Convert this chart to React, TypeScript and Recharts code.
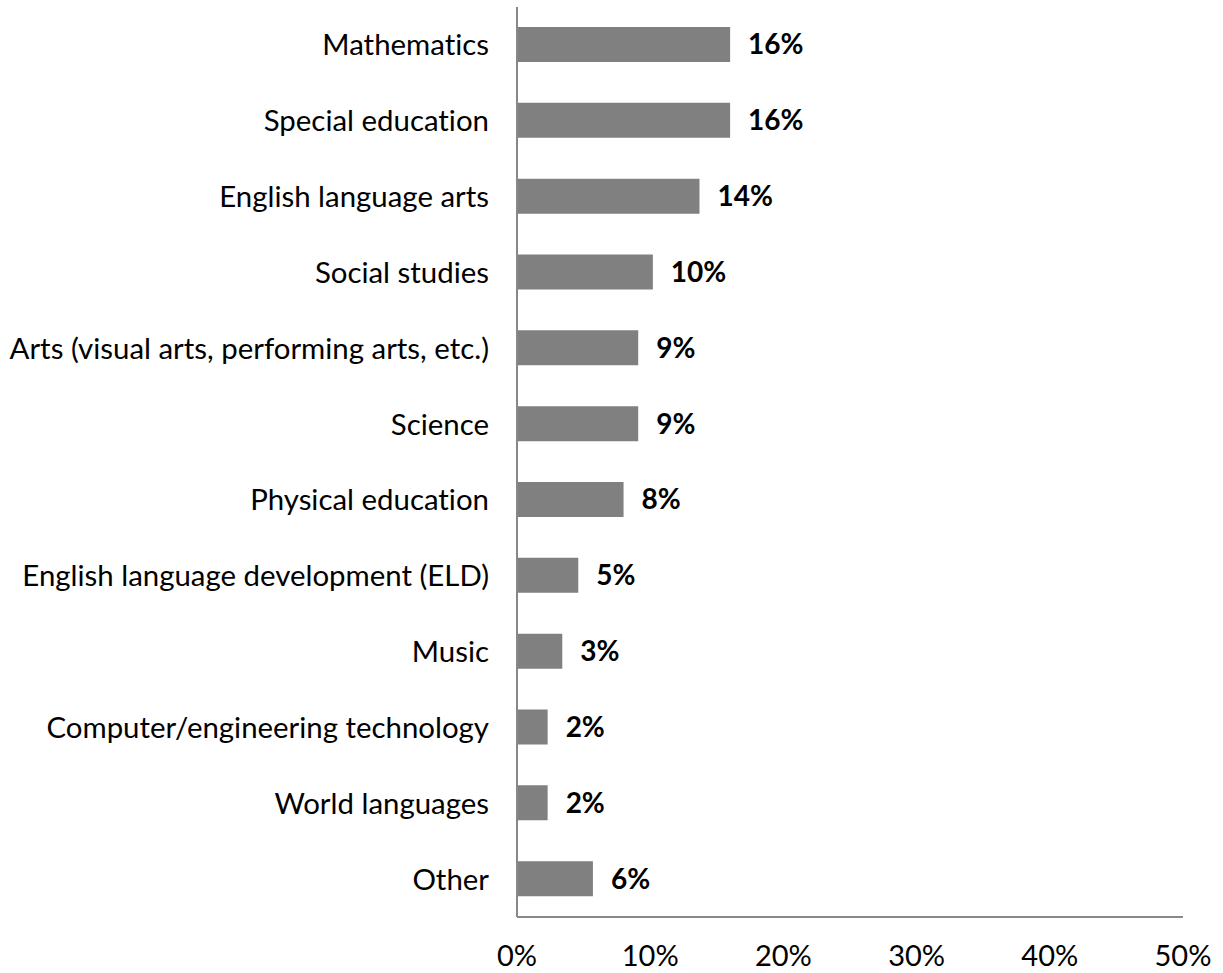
import { BarChart, Bar, XAxis, YAxis, LabelList } from 'recharts'

const subjects = [
  'Mathematics',
  'Special education',
  'English language arts',
  'Social studies',
  'Arts (visual arts, performing arts, etc.)',
  'Science',
  'Physical education',
  'English language development (ELD)',
  'Music',
  'Computer/engineering technology',
  'World languages',
  'Other',
]
const shares = [16.0, 16.0, 13.7, 10.2, 9.1, 9.1, 8.0, 4.6, 3.4, 2.3, 2.3, 5.7]
const shareLabels = ['16%', '16%', '14%', '10%', '9%', '9%', '8%', '5%', '3%', '2%', '2%', '6%']
const xTicks = [0, 10, 20, 30, 40, 50]

const data = subjects.map((s, i) => ({ subject: s, share: shares[i], label: shareLabels[i] }))

const font = 'Lato, "Open Sans", sans-serif'

export default function App() {
  return (
    <div style={{ position: 'absolute', left: 0, top: 0, background: '#fff', fontVariantLigatures: 'none' }}>
      <BarChart
        width={1223}
        height={973}
        data={data}
        layout="vertical"
        margin={{ top: 7, right: 40, bottom: 6, left: 0 }}
        barSize={35}
      >
        <XAxis
          type="number"
          domain={[0, 50]}
          ticks={xTicks}
          tickFormatter={(v: number) => `${v}%`}
          axisLine={{ stroke: '#888', strokeWidth: 2 }}
          tickLine={false}
          tickSize={0}
          tickMargin={28}
          height={50}
          interval={0}
          tick={{ fontSize: 29, fill: '#000', fontFamily: font }}
        />
        <YAxis
          type="category"
          dataKey="subject"
          width={517}
          axisLine={{ stroke: '#888', strokeWidth: 2 }}
          tickLine={false}
          tickSize={0}
          tickMargin={28}
          interval={0}
          tick={{ fontSize: 29.4, fill: '#000', fontFamily: font }}
        />
        <Bar dataKey="share" fill="#808080" isAnimationActive={false}>
          <LabelList
            dataKey="label"
            position="right"
            offset={18}
            style={{ fontSize: 28, fontWeight: 700, fill: '#000', fontFamily: font }}
          />
        </Bar>
      </BarChart>
    </div>
  )
}
